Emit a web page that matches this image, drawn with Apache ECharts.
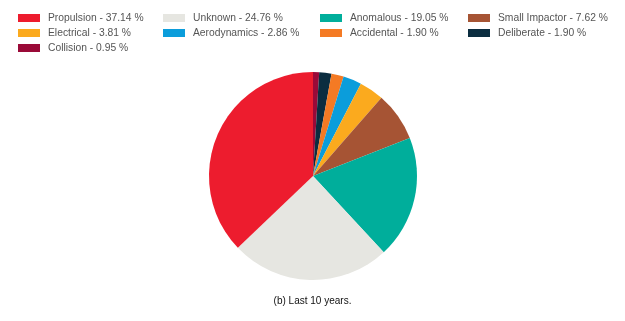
<!DOCTYPE html>
<html><head><meta charset="utf-8">
<script src="https://cdn.jsdelivr.net/npm/echarts@6/dist/echarts.min.js"></script>
<style>html,body{margin:0;padding:0;background:#fff}#c{width:625px;height:321px}</style>
</head><body><div id="c"></div>
<script>
// Pie order (clockwise from 12 o'clock)
const categories = ['Collision','Deliberate','Accidental','Aerodynamics','Electrical','Small Impactor','Anomalous','Unknown','Propulsion'];
const values = [0.95, 1.90, 1.90, 2.86, 3.81, 7.62, 19.05, 24.76, 37.14];
const colors = ['#9A0A38','#0B2D40','#F47A24','#0B9DDB','#FBAA1E','#A65434','#00AE9B','#E6E6E1','#ED1C2E'];
// Legend columns (row-major layout in 4 columns)
const legendCols = [
  ['Propulsion','Electrical','Collision'],
  ['Unknown','Aerodynamics'],
  ['Anomalous','Accidental'],
  ['Small Impactor','Deliberate']
];
const legendLeft = [13, 158, 315, 463];
const caption = '(b) Last 10 years.';

const valueOf = {};
categories.forEach((c,i)=>valueOf[c]=values[i]);
const chart = echarts.init(document.getElementById('c'), null, {renderer:'canvas'});
chart.setOption({
  animation:false,
  color: colors,
  legend: legendCols.map((col,i)=>({
    orient:'vertical', left: legendLeft[i], top: 8,
    itemWidth: 22, itemHeight: 8, itemGap: 5,
    icon:'rect',
    data: col,
    textStyle:{fontFamily:'Liberation Sans, Arial, sans-serif', fontSize:10.3, color:'#555', padding:[0,0,0,3]},
    formatter: n => n + ' - ' + valueOf[n].toFixed(2) + ' %',
    selectedMode:false
  })),
  title:{text:caption, left:'center', top:291,
    textStyle:{fontFamily:'Liberation Sans, Arial, sans-serif', fontSize:10, fontWeight:'normal', color:'#111'}},
  series:[{
    type:'pie', center:[313,176], radius:104, startAngle:90, clockwise:true,
    label:{show:false}, labelLine:{show:false},
    emphasis:{disabled:true},
    data: categories.map((c,i)=>({name:c, value:values[i]}))
  }]
});
</script></body></html>
